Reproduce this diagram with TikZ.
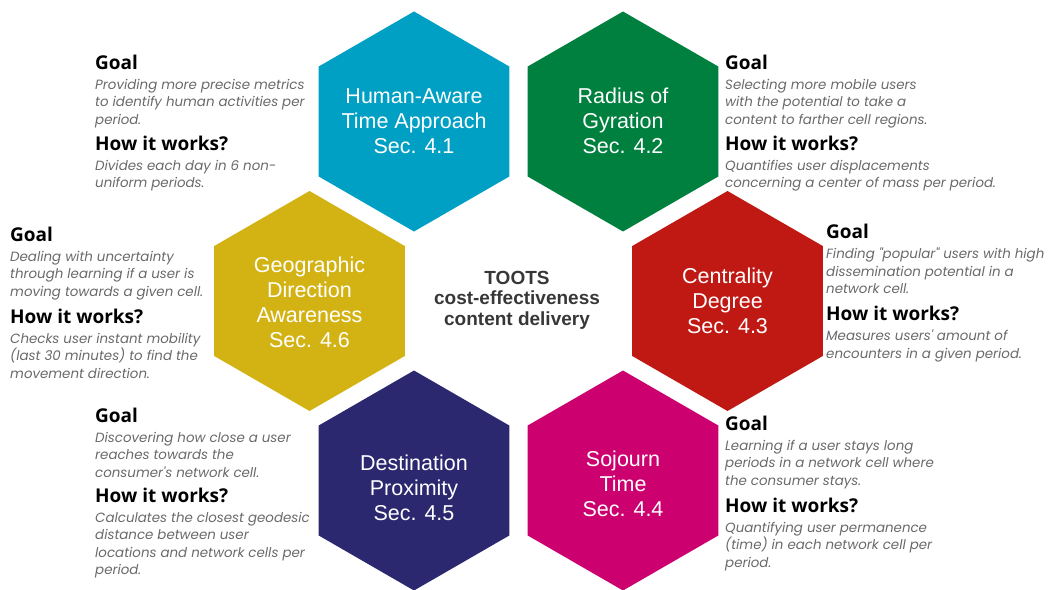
\documentclass[tikz,border=0pt]{standalone}
\usepackage{fontspec}
\setmainfont{Liberation Sans}
\newfontfamily\headfont{Open Sans}
\newfontfamily\notefont{Poppins}
\newfontfamily\cellfont{Liberation Sans}
\usetikzlibrary{shapes.geometric}
\definecolor{cellblue}{RGB}{0,159,196}
\definecolor{cellgreen}{RGB}{0,128,63}
\definecolor{cellyellow}{RGB}{211,179,20}
\definecolor{cellred}{RGB}{192,25,20}
\definecolor{cellnavy}{RGB}{43,40,112}
\definecolor{cellmagenta}{RGB}{204,0,110}
\definecolor{notegrey}{RGB}{105,105,105}
\definecolor{coregrey}{RGB}{55,55,55}

% one goal / how-it-works block: name, x, goal baseline, goal text, how baseline, how text
\newcommand{\infoblock}[6]{%
  \node[infohead] (#1goal) at (#2,#3) {Goal};
  \node[infotext] (#1goaltext) at (#2,#3+10) {#4};
  \node[infohead] (#1how) at (#2,#5) {How it works?};
  \node[infotext] (#1howtext) at (#2,#5+10) {#6};
}

\begin{document}
\begin{tikzpicture}[
    x=1pt, y=-1pt,
    hexcell/.style={regular polygon, regular polygon sides=6, minimum size=220pt,
      inner sep=0pt, outer sep=0pt, rotate=30, draw=none},
    celltag/.style={font=\cellfont\fontsize{21.5}{25}\selectfont, text=white,
      align=center, inner sep=0pt},
    infohead/.style={font=\headfont\bfseries\fontsize{19}{20}\selectfont,
      anchor=base west, inner sep=0pt},
    infotext/.style={font=\notefont\itshape\fontsize{13.4}{17.5}\selectfont,
      text=notegrey, align=left, anchor=north west, inner sep=0pt},
    core/.style={font=\bfseries\fontsize{19}{20.5}\selectfont, text=coregrey,
      align=center, inner sep=0pt},
  ]
  \useasboundingbox (0,0) rectangle (1057,589);

  % the six cells round the centre
  \foreach \name/\cx/\cy/\col/\ty/\txt in {
      hum/414/121.5/cellblue/121/{Human-Aware\\Time Approach\\Sec. 4.1},
      rad/623/121.5/cellgreen/121/{Radius of\\Gyration\\Sec. 4.2},
      cen/727.5/301/cellred/301/{Centrality\\Degree\\Sec. 4.3},
      soj/623/480.5/cellmagenta/484/{Sojourn\\Time\\Sec. 4.4},
      dst/414/480.5/cellnavy/488/{Destination\\Proximity\\Sec. 4.5},
      geo/309.5/301/cellyellow/302/{Geographic\\Direction\\Awareness\\Sec. 4.6}} {
    \node[hexcell, fill=\col] (\name) at (\cx,\cy) {};
    \node[celltag] (\name-tag) at (\cx,\ty) {\txt};
  }

  \node[core] (toots) at (517,300) {TOOTS\\cost-effectiveness\\content delivery};

  % goal / how it works texts
  \infoblock{hum}{95}{69}{Providing more precise metrics\\to identify human activities per\\period.}
    {150}{Divides each day in 6 non-\\uniform periods.}
  \infoblock{rad}{725}{69}{Selecting more mobile users\\with the potential to take a\\content to farther cell regions.}
    {150}{Quantifies user displacements\\concerning a center of mass per period.}
  \infoblock{geo}{10}{241}{Dealing with uncertainty\\through learning if a user is\\moving towards a given cell.}
    {323}{Checks user instant mobility\\(last 30 minutes) to find the\\movement direction.}
  \infoblock{cen}{826}{238}{Finding "popular" users with high\\dissemination potential in a\\network cell.}
    {320}{Measures users' amount of\\encounters in a given period.}
  \infoblock{dst}{95}{422}{Discovering how close a user\\reaches towards the\\consumer's network cell.}
    {502}{Calculates the closest geodesic\\distance between user\\locations and network cells per\\period.}
  \infoblock{soj}{725}{430}{Learning if a user stays long\\periods in a network cell where\\the consumer stays.}
    {512}{Quantifying user permanence\\(time) in each network cell per\\period.}
\end{tikzpicture}
\end{document}
